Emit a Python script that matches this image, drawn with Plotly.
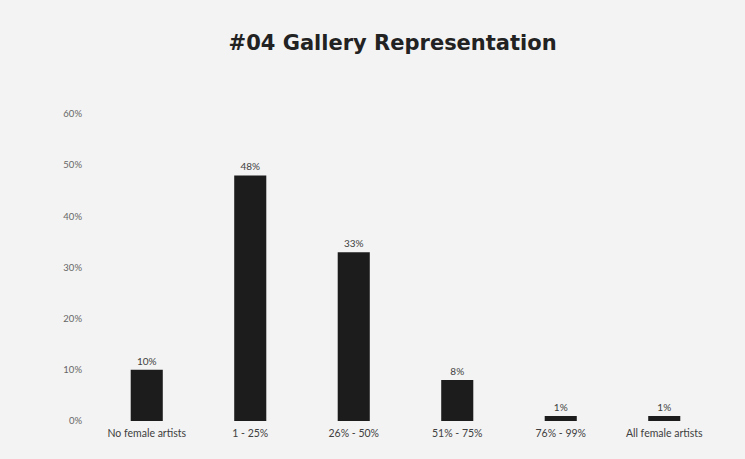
import plotly.graph_objects as go

categories = ["No female artists", "1 - 25%", "26% - 50%", "51% - 75%", "76% - 99%", "All female artists"]
values = [10, 48, 33, 8, 1, 1]
labels = ["10%", "48%", "33%", "8%", "1%", "1%"]
tick_vals = [0, 10, 20, 30, 40, 50, 60]
tick_text = ["0%", "10%", "20%", "30%", "40%", "50%", "60%"]

fig = go.Figure(go.Bar(
    x=categories, y=values, text=labels, textposition="outside",
    textfont=dict(size=10, color="#404040", family="Lato"),
    marker=dict(color="#1c1c1c", line=dict(width=0)),
    width=0.31, cliponaxis=False,
))

fig.update_layout(
    width=745, height=459,
    margin=dict(l=95, r=29, t=114, b=38),
    paper_bgcolor="#f3f3f3", plot_bgcolor="#f3f3f3",
    showlegend=False,
    title=dict(text="<b>#04 Gallery Representation</b>", x=0.527, xanchor="center",
               y=0.908, yanchor="middle",
               font=dict(family="DejaVu Sans", size=21, color="#222222")),
    font=dict(family="Lato", size=10, color="#555555"),
)
fig.update_xaxes(showgrid=False, showline=False, ticks="", tickfont=dict(size=10.5, color="#404040"),
                 ticklabelstandoff=4)
fig.update_yaxes(range=[0, 60], tickvals=tick_vals, ticktext=tick_text, showgrid=False,
                 zeroline=False, showline=False, ticks="", ticklabelstandoff=12,
                 tickfont=dict(size=9.5, color="#666666"))

fig.write_html("out.html")
